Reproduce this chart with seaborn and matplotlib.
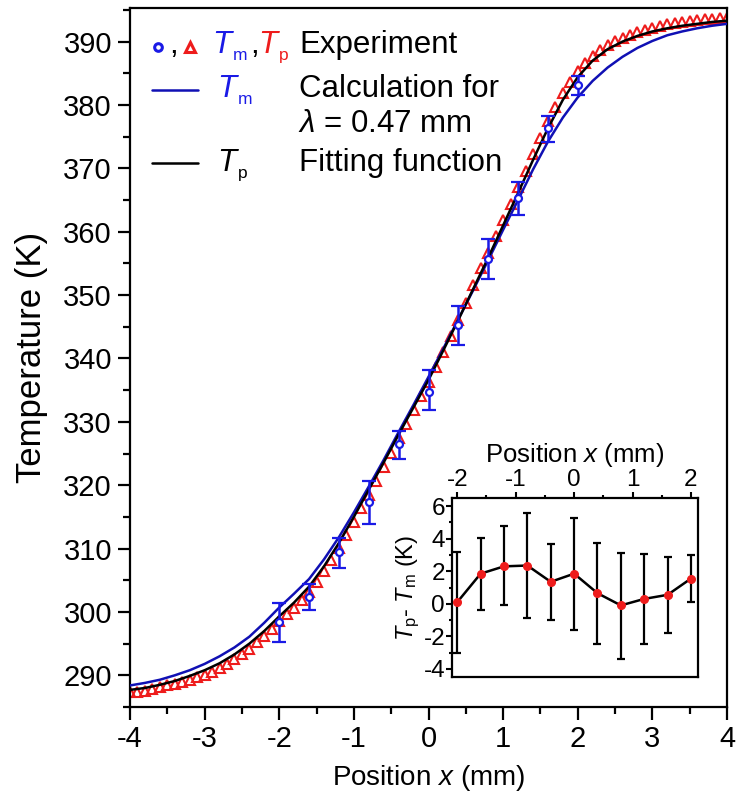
import numpy as np
import pandas as pd
import matplotlib
matplotlib.use("Agg")
import matplotlib.pyplot as plt
import seaborn as sns
from matplotlib.ticker import MultipleLocator

# ---- data ----
# fitting function T_p and calculated T_m (lambda = 0.47 mm), every 0.2 mm
x_curve = [-4.0, -3.8, -3.6, -3.4, -3.2, -3.0, -2.8, -2.6, -2.4, -2.2, -2.0,
           -1.8, -1.6, -1.4, -1.2, -1.0, -0.8, -0.6, -0.4, -0.2, 0.0,
           0.2, 0.4, 0.6, 0.8, 1.0, 1.2, 1.4, 1.6, 1.8, 2.0,
           2.2, 2.4, 2.6, 2.8, 3.0, 3.2, 3.4, 3.6, 3.8, 4.0]
tp_fit = [287.7, 288.0, 288.5, 289.1, 289.9, 290.8, 291.9, 293.3, 295.0, 297.0, 299.3,
          301.5, 304.0, 307.2, 310.9, 315.0, 319.3, 323.6, 328.0, 332.3, 336.6,
          341.3, 346.1, 351.0, 355.9, 361.0, 366.1, 371.3, 376.3, 380.8, 384.4,
          387.0, 388.8, 390.0, 390.9, 391.6, 392.1, 392.5, 392.8, 393.1, 393.3]
tm_calc = [288.4, 288.8, 289.3, 290.0, 290.8, 291.8, 293.0, 294.4, 296.1, 298.3, 300.7,
           302.9, 305.2, 308.3, 311.8, 315.7, 319.8, 324.0, 328.4, 332.7, 337.1,
           341.6, 346.2, 350.8, 355.5, 360.3, 365.0, 369.8, 374.2, 378.0, 381.2,
           383.8, 385.9, 387.6, 389.0, 390.1, 391.0, 391.6, 392.1, 392.5, 392.8]

# experimental T_p (triangles), every 0.1 mm
x_tp = [-4.0, -3.9, -3.8, -3.7, -3.6, -3.5, -3.4, -3.3, -3.2, -3.1, -3.0,
        -2.9, -2.8, -2.7, -2.6, -2.5, -2.4, -2.3, -2.2, -2.1, -2.0,
        -1.9, -1.8, -1.7, -1.6, -1.5, -1.4, -1.3, -1.2, -1.1, -1.0,
        -0.9, -0.8, -0.7, -0.6, -0.5, -0.4, -0.3, -0.2, -0.1, 0.0,
        0.1, 0.2, 0.3, 0.4, 0.5, 0.6, 0.7, 0.8, 0.9, 1.0,
        1.1, 1.2, 1.3, 1.4, 1.5, 1.6, 1.7, 1.8, 1.9, 2.0,
        2.1, 2.2, 2.3, 2.4, 2.5, 2.6, 2.7, 2.8, 2.9, 3.0,
        3.1, 3.2, 3.3, 3.4, 3.5, 3.6, 3.7, 3.8, 3.9, 4.0]
tp_exp = [287.3, 287.4, 287.6, 287.8, 288.1, 288.4, 288.6, 288.9, 289.3, 289.7, 290.1,
          290.6, 291.1, 291.8, 292.5, 293.3, 294.2, 295.2, 296.2, 297.3, 298.5,
          299.6, 300.7, 301.9, 303.2, 304.8, 306.4, 308.2, 310.1, 312.1, 314.2,
          316.4, 318.5, 320.7, 322.9, 325.1, 327.4, 329.6, 331.9, 334.1, 336.3,
          338.6, 341.0, 343.5, 346.1, 348.8, 351.6, 354.2, 356.7, 359.3, 361.8,
          364.4, 367.0, 369.6, 372.2, 374.8, 377.4, 379.7, 381.9, 383.7, 385.4,
          386.6, 387.8, 388.7, 389.5, 390.1, 390.6, 391.1, 391.5, 391.9, 392.2,
          392.5, 392.7, 392.9, 393.1, 393.3, 393.4, 393.5, 393.6, 393.7, 393.8]

# experimental T_m (circles) with error bar ends
x_tm = [-2.0, -1.6, -1.2, -0.8, -0.4, 0.0, 0.4, 0.8, 1.2, 1.6, 2.0]
tm_exp = [298.4, 302.3, 309.4, 317.3, 326.5, 334.7, 345.2, 355.7, 365.3, 376.3, 383.1]
tm_lo = [295.3, 300.3, 306.9, 313.9, 324.1, 331.9, 342.2, 352.5, 362.7, 374.1, 381.6]
tm_hi = [301.4, 304.4, 311.6, 320.6, 328.6, 338.2, 348.2, 358.8, 367.9, 378.2, 384.6]

# inset: T_p - T_m
diff = [0.1, 1.85, 2.3, 2.35, 1.35, 1.85, 0.65, -0.1, 0.3, 0.55, 1.55]
diff_lo = [-3.05, -0.4, -0.1, -0.9, -1.0, -1.6, -2.45, -3.4, -2.45, -1.8, 0.1]
diff_hi = [3.2, 4.05, 4.75, 5.6, 3.7, 5.3, 3.75, 3.15, 3.05, 2.9, 3.0]

BLUE = "#1a1ae6"
NAVY = "#1010b4"
RED = "#ee1c1c"

sns.set_theme(style="ticks")
plt.rcParams["font.family"] = ["Liberation Sans", "DejaVu Sans"]
plt.rcParams["mathtext.fontset"] = "custom"
plt.rcParams["mathtext.rm"] = "Liberation Sans"
plt.rcParams["mathtext.it"] = "Liberation Sans:italic"
plt.rcParams["axes.unicode_minus"] = False
plt.rcParams["axes.linewidth"] = 1.6
for k in ["text.color", "axes.labelcolor", "xtick.color", "ytick.color", "axes.edgecolor"]:
    plt.rcParams[k] = "black"

W, H = 737, 800
fig = plt.figure(figsize=(W / 100, H / 100), dpi=100)
ax = fig.add_axes([130 / W, 1 - 707 / H, 597 / W, 699 / H])

curves = pd.DataFrame({"x": x_curve, "fit": tp_fit, "calc": tm_calc})
sns.lineplot(data=curves, x="x", y="calc", ax=ax, color=NAVY, lw=1.8, zorder=3)
ax.plot(x_tp, tp_exp, ls="none", marker="^", ms=6.5, mfc="none", mec=RED, mew=1.5, zorder=2)
sns.lineplot(data=curves, x="x", y="fit", ax=ax, color="black", lw=1.8, zorder=4)

tm = np.array(tm_exp)
ax.errorbar(x_tm, tm, yerr=[tm - np.array(tm_lo), np.array(tm_hi) - tm], fmt="o",
            ms=5, mfc="white", mec=BLUE, mew=1.6, ecolor=BLUE, elinewidth=1.8,
            capsize=5, capthick=1.8, zorder=5)

ax.set_xlim(-4, 4)
ax.set_ylim(285, 395.3)
ax.xaxis.set_major_locator(MultipleLocator(1))
ax.xaxis.set_minor_locator(MultipleLocator(0.5))
ax.yaxis.set_major_locator(MultipleLocator(10))
ax.yaxis.set_minor_locator(MultipleLocator(5))
ax.tick_params(which="major", direction="out", length=9, width=1.6, labelsize=21, pad=4)
ax.tick_params(which="minor", direction="out", length=5, width=1.6)
ax.set_xlabel(r"Position $x$ (mm)", fontsize=20, labelpad=7)
ax.set_ylabel("Temperature (K)", fontsize=25, labelpad=11)
for s in ax.spines.values():
    s.set_visible(True)
ax.grid(False)

# ---- legend block (figure pixels) ----
def fx(px):
    return px / W

def fy(py):
    return 1 - py / H

fs = 22.5
fsub = 12.5

def sym(px, py, sub, color):
    # italic T with a small upright subscript, as in the reference
    fig.text(fx(px), fy(py), "T", fontsize=fs, style="italic", color=color)
    fig.text(fx(px + 21), fy(py + 7), sub, fontsize=fsub, color=color)

ax.plot([fx(158)], [fy(47)], transform=fig.transFigure, marker="o", ms=5.5,
        mfc="none", mec=BLUE, mew=2.2, clip_on=False)
fig.text(fx(169), fy(53), ",", fontsize=fs)
ax.plot([fx(190)], [fy(47)], transform=fig.transFigure, marker="^", ms=7.5,
        mfc="none", mec=RED, mew=2.2, clip_on=False)
sym(212, 53, "m", BLUE)
fig.text(fx(250), fy(53), ",", fontsize=fs)
sym(258, 53, "p", RED)
fig.text(fx(299), fy(53), "Experiment", fontsize=fs)

ax.plot([fx(152), fx(198)], [fy(90), fy(90)], transform=fig.transFigure,
        color=NAVY, lw=1.8, clip_on=False)
sym(217, 97, "m", BLUE)
fig.text(fx(299), fy(97), "Calculation for", fontsize=fs)
fig.text(fx(298), fy(132), r"$\lambda$ = 0.47 mm", fontsize=fs)

ax.plot([fx(152), fx(198)], [fy(163), fy(163)], transform=fig.transFigure,
        color="black", lw=1.8, clip_on=False)
sym(217, 171, "p", "black")
fig.text(fx(299), fy(171), "Fitting function", fontsize=fs)

# ---- inset ----
axin = fig.add_axes([452 / W, 1 - 677 / H, 246 / W, 179 / H])
axin.set_facecolor("white")
d = np.array(diff)
axin.errorbar(x_tm, d, yerr=[d - np.array(diff_lo), np.array(diff_hi) - d], fmt="none",
              ecolor="black", elinewidth=1.6, capsize=3, capthick=1.6, zorder=2)
sns.lineplot(x=x_tm, y=diff, ax=axin, color="black", lw=1.8, zorder=3)
axin.plot(x_tm, diff, ls="none", marker="o", ms=5.5, mfc=RED, mec=RED, zorder=4)
axin.set_xlim(-2.09, 2.12)
axin.set_ylim(-4.5, 6.5)
axin.xaxis.tick_top()
axin.xaxis.set_label_position("top")
axin.xaxis.set_major_locator(MultipleLocator(1))
axin.xaxis.set_minor_locator(MultipleLocator(0.5))
axin.yaxis.set_major_locator(MultipleLocator(2))
axin.yaxis.set_minor_locator(MultipleLocator(1))
axin.tick_params(which="major", direction="out", length=4, width=1.5, labelsize=17.5, pad=1)
axin.tick_params(which="minor", direction="out", length=2.5, width=1.5)
axin.set_xlabel(r"Position $x$ (mm)", fontsize=18.5, labelpad=5)
axin.set_ylabel(r"$T_\mathrm{p}$- $T_\mathrm{m}$ (K)", fontsize=17, labelpad=1)
for s in axin.spines.values():
    s.set_visible(True)
    s.set_linewidth(1.6)
axin.grid(False)

fig.savefig("out.png", dpi=100)
